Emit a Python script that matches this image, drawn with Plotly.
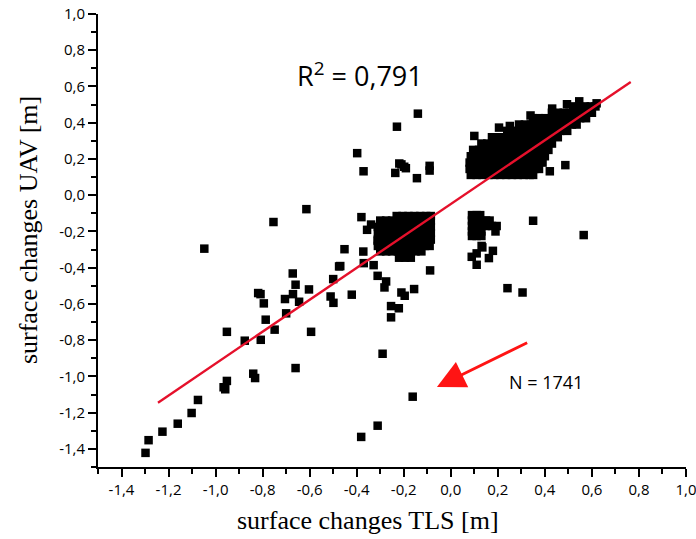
import plotly.graph_objects as go

# ------------------------------- DATA -------------------------------- #
# single (isolated) points: TLS change / UAV change [m]
tls_single = [-1.298, -1.285, -1.226, -1.161, -1.102, -1.075, -0.966, -0.959, -0.952, -0.952,
              -0.876, -0.840, -0.832, -0.808, -0.819, -0.809, -0.795, -0.787, -0.749, -0.705,
              -0.700, -0.672, -0.660, -0.671, -0.645, -0.660, -0.603, -0.594, -0.500, -0.511,
              -0.499, -0.475, -1.048, -0.754, -0.614,
              -0.452, -0.470, -0.421, -0.372, -0.370, -0.328, -0.311, -0.275, -0.282, -0.210,
              -0.196, -0.156, -0.088, -0.254, -0.221, -0.254, -0.380, -0.339, -0.356, -0.300,
              -0.311, -0.290, -0.162, -0.311, -0.381,
              -0.398, -0.229, -0.140, -0.371, -0.236, -0.219, -0.198, -0.191, -0.210, -0.144,
              -0.090, -0.090,
              0.350, 0.565, 0.241, 0.305, 0.131, 0.179, 0.162, 0.089, 0.110, 0.110, 0.134,
              0.100, 0.205, 0.251, 0.339, 0.431, 0.494, 0.546, 0.620, 0.487, 0.421]
uav_single = [-1.422, -1.352, -1.305, -1.261, -1.202, -1.130, -1.060, -1.071, -1.025, -0.754,
              -0.803, -0.985, -1.009, -0.798, -0.540, -0.546, -0.597, -0.687, -0.742, -0.573,
              -0.652, -0.432, -0.494, -0.546, -0.588, -0.954, -0.520, -0.754, -0.463, -0.559,
              -0.594, -0.393, -0.295, -0.148, -0.077,
              -0.298, -0.391, -0.549, -0.311, -0.375, -0.386, -0.445, -0.476, -0.509, -0.537,
              -0.555, -0.518, -0.415, -0.612, -0.624, -0.674, -0.121, -0.162, -0.191, -0.180,
              -0.252, -0.875, -1.112, -1.272, -1.334,
              0.232, 0.378, 0.450, 0.132, 0.123, 0.175, 0.157, 0.149, 0.170, 0.094,
              0.162, 0.136,
              -0.141, -0.220, -0.513, -0.537, -0.280, -0.307, -0.347, -0.340, -0.321, -0.384, -0.288,
              0.327, 0.373, 0.382, 0.440, 0.478, 0.502, 0.518, 0.507, 0.166, 0.132]

# dense cloud, upper right (rows of UAV value with the TLS values seen on that row)
upper_rows_uav = [0.112, 0.145, 0.18, 0.215, 0.25, 0.285, 0.32, 0.355, 0.39, 0.425, 0.455, 0.49]
upper_rows_tls = [
    [0.085, 0.11, 0.135, 0.16, 0.185, 0.21, 0.235, 0.26, 0.285, 0.31, 0.335, 0.35],
    [0.08, 0.105, 0.13, 0.155, 0.18, 0.205, 0.23, 0.255, 0.28, 0.305, 0.33, 0.355, 0.375],
    [0.08, 0.105, 0.13, 0.155, 0.18, 0.205, 0.23, 0.255, 0.28, 0.305, 0.33, 0.36, 0.39],
    [0.085, 0.11, 0.135, 0.16, 0.185, 0.21, 0.235, 0.26, 0.285, 0.31, 0.335, 0.36, 0.385, 0.40],
    [0.095, 0.12, 0.145, 0.17, 0.195, 0.22, 0.245, 0.27, 0.295, 0.32, 0.345, 0.37, 0.395, 0.415],
    [0.13, 0.155, 0.18, 0.205, 0.23, 0.255, 0.28, 0.305, 0.33, 0.355, 0.38, 0.405, 0.43],
    [0.175, 0.2, 0.225, 0.25, 0.275, 0.3, 0.325, 0.35, 0.375, 0.4, 0.425, 0.455],
    [0.24, 0.265, 0.29, 0.315, 0.34, 0.365, 0.39, 0.415, 0.44, 0.465, 0.495],
    [0.29, 0.315, 0.34, 0.365, 0.39, 0.415, 0.44, 0.465, 0.49, 0.515, 0.535],
    [0.35, 0.375, 0.4, 0.425, 0.45, 0.475, 0.5, 0.525, 0.55, 0.575],
    [0.43, 0.455, 0.48, 0.505, 0.53, 0.555, 0.58, 0.60],
    [0.52, 0.545, 0.57, 0.595, 0.615],
]

# dense cloud, middle
mid_rows_uav = [-0.115, -0.14, -0.175, -0.21, -0.245, -0.28, -0.31, -0.345]
mid_rows_tls = [
    [-0.23, -0.205, -0.18, -0.155, -0.13, -0.105, -0.085],
    [-0.30, -0.275, -0.25, -0.225, -0.20, -0.175, -0.15, -0.125, -0.10, -0.085],
    [-0.31, -0.285, -0.26, -0.235, -0.21, -0.185, -0.16, -0.135, -0.11, -0.085],
    [-0.31, -0.285, -0.26, -0.235, -0.21, -0.185, -0.16, -0.135, -0.11, -0.085],
    [-0.31, -0.285, -0.26, -0.235, -0.21, -0.19, -0.16, -0.135, -0.11, -0.085],
    [-0.31, -0.285, -0.26, -0.235, -0.21, -0.185, -0.16, -0.135, -0.11, -0.09],
    [-0.30, -0.275, -0.25, -0.225, -0.20, -0.175, -0.15, -0.125],
    [-0.22, -0.195, -0.17],
]

# small cloud, lower right
low_rows_uav = [-0.11, -0.14, -0.17, -0.20, -0.225]
low_rows_tls = [
    [0.09, 0.11, 0.125],
    [0.09, 0.11, 0.13, 0.15, 0.165],
    [0.09, 0.11, 0.13, 0.15, 0.175, 0.195],
    [0.09, 0.11, 0.13, 0.19],
    [0.09, 0.11, 0.13],
]

# linear fit (end points of the red line)
fit_tls = [-1.245, 0.765]
fit_uav = [-1.145, 0.625]

tick_vals = [-1.4, -1.2, -1.0, -0.8, -0.6, -0.4, -0.2, 0.0, 0.2, 0.4, 0.6, 0.8, 1.0]
tick_text = ['-1,4', '-1,2', '-1,0', '-0,8', '-0,6', '-0,4', '-0,2', '0,0', '0,2', '0,4', '0,6', '0,8', '1,0']

r2_text = 'R<sup>2</sup> = 0,791'
n_text = 'N = 1741'

# ------------------------------ PROCESS ------------------------------ #
tls_all = list(tls_single)
uav_all = list(uav_single)
for rows_uav, rows_tls in [(upper_rows_uav, upper_rows_tls), (mid_rows_uav, mid_rows_tls),
                           (low_rows_uav, low_rows_tls)]:
    for yv, xs in zip(rows_uav, rows_tls):
        tls_all += xs
        uav_all += [yv] * len(xs)

# ------------------------------ VISUALIZE ---------------------------- #
fig = go.Figure()
fig.add_trace(go.Scatter(x=tls_all, y=uav_all, mode='markers',
                         marker=dict(symbol='square', size=8.5, color='black', line=dict(width=0)),
                         showlegend=False))
fig.add_trace(go.Scatter(x=fit_tls, y=fit_uav, mode='lines',
                         line=dict(color='#e5102b', width=2.4), showlegend=False))

axis_common = dict(
    range=[-1.5, 1.0], tickvals=tick_vals, ticktext=tick_text,
    showline=True, linecolor='black', linewidth=2, mirror=False,
    ticks='outside', ticklen=8, tickwidth=2, tickcolor='black',
    minor=dict(ticks='outside', ticklen=5, tickwidth=2, dtick=0.1, tick0=0, tickcolor='black'),
    showgrid=False, zeroline=False, automargin=False, ticklabeloverflow='allow',
    tickfont=dict(family='Open Sans', size=15, color='black'),
)
fig.update_xaxes(**axis_common)
fig.update_yaxes(**axis_common)

title_font = dict(family='Liberation Serif', size=26, color='black')
fig.add_annotation(text='surface changes TLS [m]', xref='paper', yref='paper', x=0.459, y=-0.117,
                   xanchor='center', yanchor='middle', showarrow=False, font=title_font)
fig.add_annotation(text='surface changes UAV [m]', xref='paper', yref='paper', x=-0.119, y=0.523,
                   xanchor='center', yanchor='middle', textangle=-90, showarrow=False, font=title_font)

fig.add_annotation(text=r2_text, x=-0.386, y=0.667, xref='x', yref='y', showarrow=False,
                   font=dict(family='Open Sans', size=27, color='black'))
fig.add_annotation(text=n_text, x=0.403, y=-1.031, xref='x', yref='y', showarrow=False,
                   font=dict(family='Open Sans', size=18, color='black'))
fig.add_annotation(text='', x=-0.059, y=-1.058, ax=0.331, ay=-0.810, xref='x', yref='y',
                   axref='x', ayref='y', showarrow=True, arrowhead=2, arrowsize=2.0,
                   arrowwidth=2.8, arrowcolor='#ff1414')

fig.update_layout(width=696, height=539, margin=dict(l=98, r=10, t=14, b=72),
                  plot_bgcolor='white', paper_bgcolor='white')

fig.write_html('out.html', config={'displayModeBar': False},
               post_script="document.body.style.margin='0';")
